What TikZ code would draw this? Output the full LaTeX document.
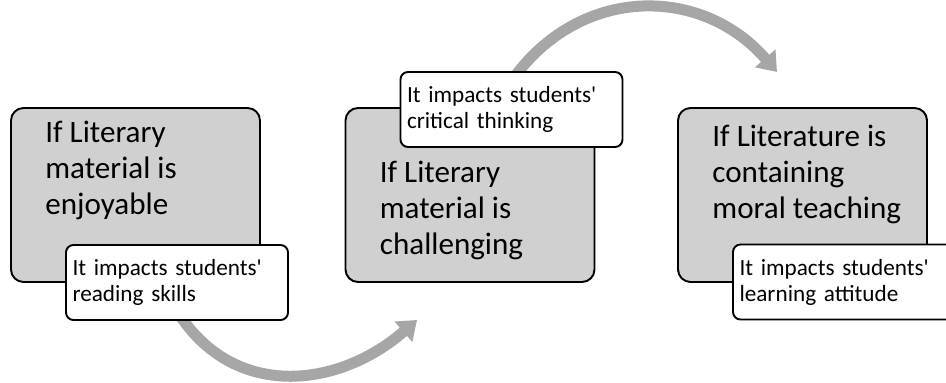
\documentclass[tikz,border=0pt]{standalone}
\usepackage{fontspec}
\setmainfont{Carlito}[Ligatures=TeXOff]
\usetikzlibrary{calc,positioning,arrows.meta,backgrounds}
\tikzset{>={Triangle[length=0.36cm,width=0.52cm]}}
\definecolor{boxgray}{RGB}{208,208,208}
\definecolor{arrowgray}{RGB}{166,166,166}

\begin{document}
\begin{tikzpicture}[
    graybox/.style={draw,line width=1.1pt,fill=boxgray,rounded corners=0.25cm,minimum width=4.98cm,minimum height=3.48cm},
    bigtext/.style={inner sep=0pt,align=left,font=\fontsize{17.7}{20.4}\selectfont},
    notebox/.style={draw,line width=1.1pt,fill=white,rounded corners=0.15cm,minimum width=4.44cm,minimum height=1.5cm,
        inner xsep=0.13cm,text width=4.18cm,align=left,font=\fontsize{13.2}{14.8}\selectfont},
    flow/.style={->,arrowgray,line width=0.22cm}]
    \path[use as bounding box,clip] (0,0) rectangle (18.92,7.66);
    \foreach \x[count=\i] in {2.71,9.40,16.05}{
        \node[graybox] (b\i) at (\x,3.76) {};
    }
    \node[bigtext,below right=0.28cm and 0.7cm of b1.north west] (t1) {If Literary\\material is\\enjoyable};
    \node[bigtext,below right=1.08cm and 0.7cm of b2.north west] (t2) {If Literary\\material is\\challenging};
    \node[bigtext,below right=0.36cm and 0.7cm of b3.north west] (t3) {If Literature is\\containing\\moral teaching};
    % notes on top of the boxes
    \node[notebox] (w1) at ($(b1)+(0.83,-1.75)$) {It impacts students'\\reading skills};
    \node[notebox] (w2) at ($(b2)+(0.83,1.71)$) {It impacts students'\\critical thinking};
    \node[notebox] (w3) at ($(b3)+(0.83,-1.74)$) {It impacts students'\\learning attitude};
    \coordinate (tip1) at (8.34,1.26);
    \coordinate (tip2) at (15.54,6.22);
    \begin{scope}[on background layer]
        \draw[flow] ($(w1.south)+(0,0.2)$) to[out=-58,in=-139,looseness=1.12] (tip1);
        \draw[flow] ($(w2.north)+(0,-0.2)$) to[out=55,in=131,looseness=1.12] (tip2);
    \end{scope}
\end{tikzpicture}
\end{document}
